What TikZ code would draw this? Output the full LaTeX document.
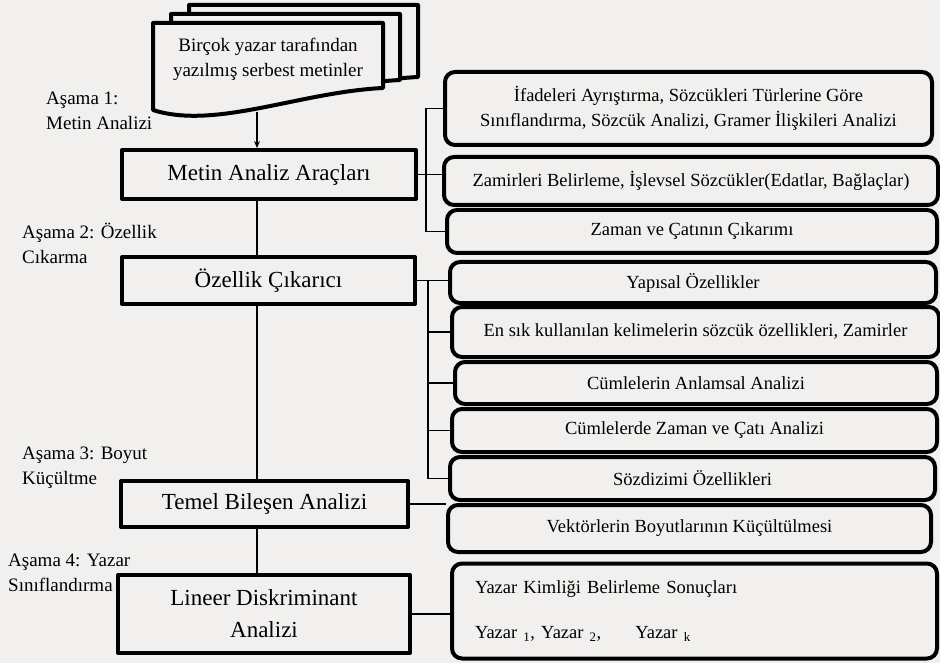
\documentclass[tikz,border=0pt]{standalone}
\usepackage{fontspec}
\setmainfont{Liberation Serif}
\usetikzlibrary{positioning}
\usetikzlibrary{calc}
\usetikzlibrary{arrows.meta}
\definecolor{paper}{RGB}{241,240,238}
\tikzset{%
  anabox/.style = {rectangle,draw,line width=4pt,line join=round,
        inner sep=0pt,align=center,font=\fontsize{23}{32}\selectfont},
  altbox/.style = {rectangle,draw,rounded corners=10pt,line width=4pt,
        inner sep=0pt,align=center,font=\fontsize{18.5}{25}\selectfont},
  asama/.style = {anchor=west,inner sep=0pt,align=left,
        font=\fontsize{19}{25}\selectfont},
  docpage/.style = {line width=4pt,line join=round,fill=paper},
  hat/.style = {line width=1.4pt}
}

\begin{document}
\begin{tikzpicture}[x=1pt,y=-1pt]
    \useasboundingbox (0,0) rectangle (940,663);
    \fill[paper] (0,0) rectangle (940,663);

    % stack of documents
    \filldraw[docpage] (189,99) -- (189,5) -- (418,5) -- (418,77)
        .. controls (336,81) and (251,119) .. (189,99) -- cycle;
    \filldraw[docpage] (171,102) -- (171,14) -- (400,14) -- (400,80)
        .. controls (318,84) and (233,122) .. (171,102) -- cycle;
    \filldraw[docpage] (153,110) -- (153,23) -- (383,23) -- (383,88)
        .. controls (300,92) and (215,130) .. (153,110) -- cycle;
    \node[font=\fontsize{19}{25}\selectfont,align=center] (metinler) at (268,59.5)
        {Birçok yazar tarafından\\yazılmış serbest metinler};
    \coordinate (docfoot) at (257,112);
    \coordinate (spine) at (257,0);

    % main flow
    \node[anabox,minimum width=294pt,minimum height=49pt] (arac) at (269,174.5) {Metin Analiz Araçları};
    \node[anabox,minimum width=293pt,minimum height=47pt] (ozellik) at (268.5,280.5) {Özellik Çıkarıcı};
    \node[anabox,minimum width=287pt,minimum height=46pt] (temel) at (264.5,504) {Temel Bileşen Analizi};
    \node[anabox,minimum width=292pt,minimum height=78pt] (lda) at (264,614) {Lineer Diskriminant\\Analizi};

    % stage labels
    \node[asama] (asama1) at (46,110.5) {Aşama 1:\\Metin Analizi};
    \node[asama] (asama2) at (22,243.5) {Aşama 2: Özellik\\Cıkarma};
    \node[asama] (asama3) at (22,467.5) {Aşama 3: Boyut\\Küçültme};
    \node[asama] (asama4) at (8,572.5) {Aşama 4: Yazar\\Sınıflandırma};

    % detail boxes
    \node[altbox,minimum width=487pt,minimum height=73pt] (ifade) at (688.5,108.5)
        {İfadeleri Ayrıştırma, Sözcükleri Türlerine Göre\\Sınıflandırma, Sözcük Analizi, Gramer İlişkileri Analizi};
    \node[altbox,minimum width=494pt,minimum height=48pt] (zamir) at (691,181)
        {Zamirleri Belirleme, İşlevsel Sözcükler(Edatlar, Bağlaçlar)};
    \node[altbox,minimum width=490pt,minimum height=43pt] (zaman) at (692,231.5) {Zaman ve Çatının Çıkarımı};
    \node[altbox,minimum width=486pt,minimum height=41pt] (yapisal) at (693,282.5) {Yapısal Özellikler};
    \node[altbox,minimum width=487pt,minimum height=50pt] (ensik) at (695.5,332)
        {En sık kullanılan kelimelerin sözcük özellikleri, Zamirler};
    \node[altbox,minimum width=482pt,minimum height=42pt] (anlam) at (696,383) {Cümlelerin Anlamsal Analizi};
    \node[altbox,minimum width=485pt,minimum height=43pt] (cati) at (694.5,430.5) {Cümlelerde Zaman ve Çatı Analizi};
    \node[altbox,minimum width=485pt,minimum height=43pt] (sozdizimi) at (692.5,478.5) {Sözdizimi Özellikleri};
    \node[altbox,minimum width=483pt,minimum height=47pt] (vektor) at (689.5,528.5) {Vektörlerin Boyutlarının Küçültülmesi};
    \node[altbox,minimum width=485pt,minimum height=95pt,text width=439pt,align=left] (sonuc) at (694.5,611)
        {Yazar Kimliği Belirleme Sonuçları\\[20pt]
         Yazar \textsubscript{1}, Yazar \textsubscript{2},\hspace{34pt}Yazar \textsubscript{k}};

    % vertical flow
    \draw[hat,-{Stealth[length=7pt,width=6pt]}] (docfoot) -- (arac.north -| spine);
    \draw[hat] (arac.south -| spine) -- (ozellik.north -| spine);
    \draw[hat] (ozellik.south -| spine) -- (temel.north -| spine);
    \draw[hat] (temel.south -| spine) -- (lda.north -| spine);

    % branches to the detail boxes
    \coordinate (b1) at (426,0);
    \coordinate (b2) at (428,0);
    \draw[hat] (arac.east) -- (arac.east -| zamir.west);
    \draw[hat] (ifade.west) -- (ifade.west -| b1) -- (zaman.west -| b1) -- (zaman.west);
    \draw[hat] (ozellik.east) -- (ozellik.east -| yapisal.west);
    \draw[hat] (ozellik.east -| b2) -- (sozdizimi.west -| b2) -- (sozdizimi.west);
    \foreach \k in {ensik,anlam,cati}
        \draw[hat] (\k.west -| b2) -- (\k.west);
    \draw[hat] (temel.east) -- (temel.east -| vektor.west);
    \draw[hat] (lda.east) -- (lda.east -| sonuc.west);
\end{tikzpicture}
\end{document}
